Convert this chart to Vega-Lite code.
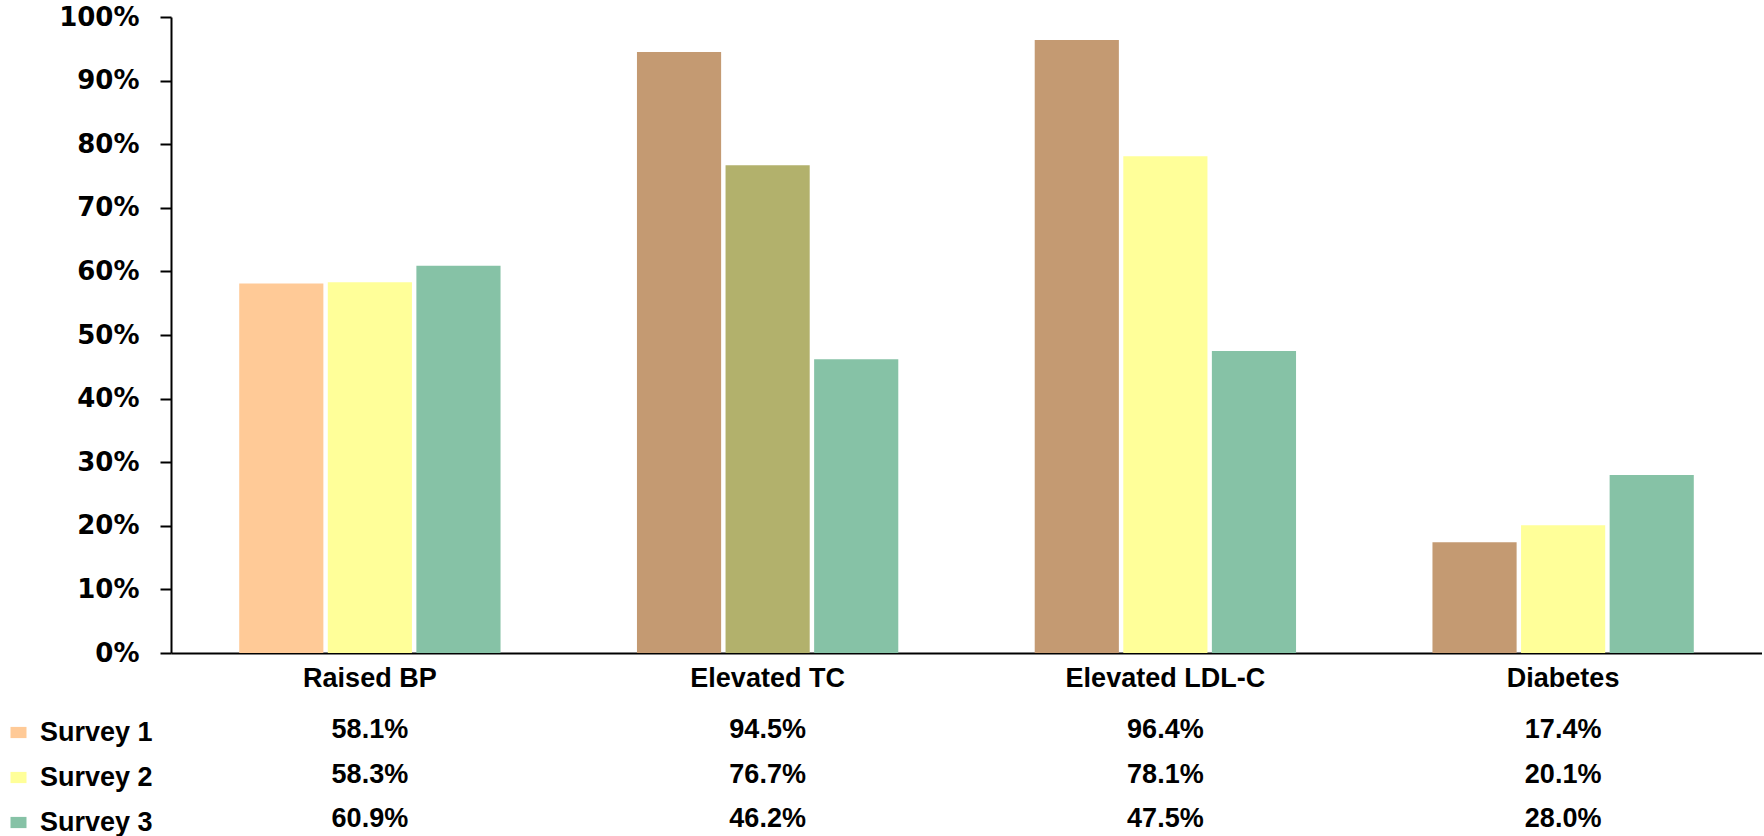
{
  "$schema": "https://vega.github.io/schema/vega-lite/v6.json",
  "autosize": {"type": "pad"},
  "padding": {"left": 5, "top": 4, "right": 0, "bottom": 0},
  "background": "white",
  "config": {
    "view": {"stroke": null},
    "font": "Liberation Sans",
    "axis": {"labelFont": "Liberation Sans", "labelFontWeight": "bold", "labelColor": "black", "labelFontSize": 27, "labelLimit": 0, "grid": false, "domainColor": "black", "domainWidth": 2, "tickColor": "black", "tickWidth": 2},
    "legend": {"labelFont": "Liberation Sans", "labelFontWeight": "bold", "labelColor": "black", "labelFontSize": 27}
  },
  "data": {
    "values": [
      {"category": "Raised BP", "survey": "Survey 1", "value": 0.581},
      {"category": "Raised BP", "survey": "Survey 2", "value": 0.583},
      {"category": "Raised BP", "survey": "Survey 3", "value": 0.609},
      {"category": "Elevated TC", "survey": "Survey 1", "value": 0.945},
      {"category": "Elevated TC", "survey": "Survey 2", "value": 0.767},
      {"category": "Elevated TC", "survey": "Survey 3", "value": 0.462},
      {"category": "Elevated LDL-C", "survey": "Survey 1", "value": 0.964},
      {"category": "Elevated LDL-C", "survey": "Survey 2", "value": 0.781},
      {"category": "Elevated LDL-C", "survey": "Survey 3", "value": 0.475},
      {"category": "Diabetes", "survey": "Survey 1", "value": 0.174},
      {"category": "Diabetes", "survey": "Survey 2", "value": 0.201},
      {"category": "Diabetes", "survey": "Survey 3", "value": 0.28}
    ]
  },
  "spacing": 55,
  "bounds": "flush",
  "resolve": {"scale": {"x": "independent"}},
  "vconcat": [
    {
      "width": 1591,
      "height": 636,
      "mark": {"type": "bar"},
      "encoding": {
        "x": {
          "field": "category", "type": "nominal", "sort": null,
          "scale": {"paddingInner": 0, "paddingOuter": 0},
          "axis": {"title": null, "ticks": false, "labelAngle": 0, "labelPadding": 12}
        },
        "xOffset": {
          "field": "survey", "type": "nominal",
          "scale": {"paddingInner": 0.05, "paddingOuter": 0.77}
        },
        "y": {
          "field": "value", "type": "quantitative",
          "scale": {"domain": [0, 1], "nice": false},
          "axis": {"title": null, "format": ".0%", "values": [0, 0.1, 0.2, 0.3, 0.4, 0.5, 0.6, 0.7, 0.8, 0.9, 1], "tickSize": 11, "labelPadding": 21, "labelFont": "DejaVu Sans", "labelFontSize": 26}
        },
        "color": {
          "condition": [
            {"test": "datum.survey === 'Survey 1' && datum.category !== 'Raised BP'", "value": "#C49A72"},
            {"test": "datum.survey === 'Survey 2' && datum.category === 'Elevated TC'", "value": "#B2B16C"}
          ],
          "field": "survey", "type": "nominal",
          "scale": {"domain": ["Survey 1", "Survey 2", "Survey 3"], "range": ["#FFCA97", "#FFFF99", "#86C2A6"]},
          "legend": {
            "title": null, "orient": "none", "legendX": -166, "legendY": 702,
            "symbolType": "M-1,-0.7H1V0.7H-1Z", "symbolSize": 256, "symbolStrokeWidth": 0,
            "labelOffset": 8, "rowPadding": 17
          }
        }
      }
    },
    {
      "width": 1591,
      "height": 133,
      "mark": {"type": "text", "font": "Liberation Sans", "fontWeight": "bold", "fontSize": 27, "color": "black"},
      "encoding": {
        "x": {
          "field": "category", "type": "nominal", "sort": null,
          "scale": {"paddingInner": 0, "paddingOuter": 0},
          "axis": null
        },
        "y": {
          "field": "survey", "type": "nominal",
          "scale": {"paddingInner": 0, "paddingOuter": 0},
          "axis": null
        },
        "text": {"field": "value", "type": "quantitative", "format": ".1%"}
      }
    }
  ]
}
